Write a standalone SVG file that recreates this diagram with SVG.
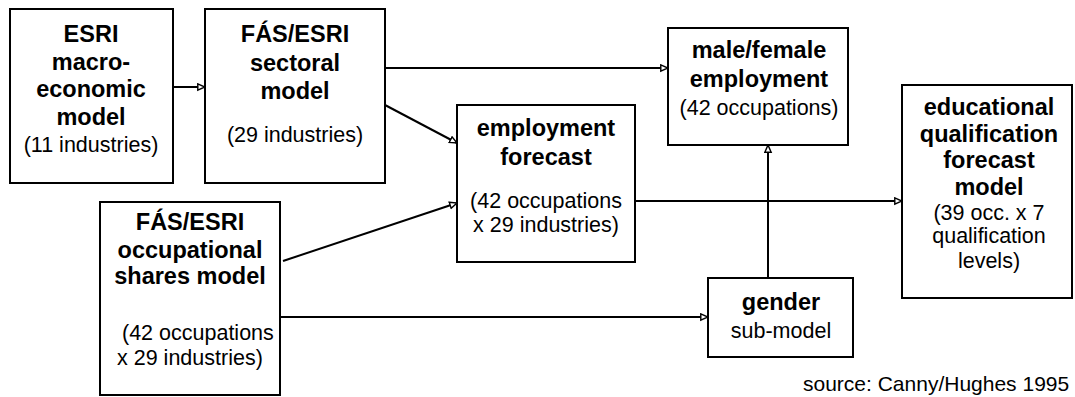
<svg xmlns="http://www.w3.org/2000/svg" width="1075" height="397" viewBox="0 0 1075 397">
  <style>
    .box { fill: #ffffff; stroke: #000000; stroke-width: 2; }
    .edge { fill: none; stroke: #000000; stroke-width: 2; marker-end: url(#head); }
    text { font-family: "Liberation Sans", Arial, sans-serif; fill: #000000; text-anchor: middle; }
    .t { font-size: 23.5px; font-weight: bold; }
    .s { font-size: 21.5px; }
    .note { font-size: 21px; text-anchor: start; }
  </style>
  <defs>
    <marker id="head" viewBox="0 0 10 10" markerUnits="userSpaceOnUse" markerWidth="9" markerHeight="9" refX="9" refY="5" orient="auto">
      <path d="M1,1.5 L9,5 L1,8.5 Z" fill="#ffffff" stroke="#000000" stroke-width="1.6" stroke-linejoin="miter"/>
    </marker>
  </defs>
  <rect width="1075" height="397" fill="#ffffff"/>

  <!-- connectors -->
  <g id="connectors">
    <line class="edge" x1="173" y1="87" x2="205" y2="87"/>
    <line class="edge" x1="385" y1="68" x2="668" y2="68"/>
    <line class="edge" x1="385" y1="105" x2="457" y2="143"/>
    <line class="edge" x1="283" y1="261" x2="457" y2="203"/>
    <line class="edge" x1="635" y1="201" x2="902" y2="201"/>
    <line class="edge" x1="280" y1="317" x2="708" y2="317"/>
    <line class="edge" x1="768" y1="278" x2="768" y2="145"/>
  </g>

  <g id="macro">
    <rect class="box" x="10" y="9" width="163" height="174"/>
    <text class="t" x="91" y="42">ESRI</text>
    <text class="t" x="91" y="70">macro-</text>
    <text class="t" x="91" y="97">economic</text>
    <text class="t" x="91" y="125">model</text>
    <text class="s" x="91" y="152">(11 industries)</text>
  </g>

  <g id="sectoral">
    <rect class="box" x="205" y="9" width="180" height="174"/>
    <text class="t" x="295" y="42">FÁS/ESRI</text>
    <text class="t" x="295" y="71">sectoral</text>
    <text class="t" x="295" y="99">model</text>
    <text class="s" x="295" y="142">(29 industries)</text>
  </g>

  <g id="malefemale">
    <rect class="box" x="668" y="28" width="180" height="117"/>
    <text class="t" x="759" y="58">male/female</text>
    <text class="t" x="759" y="87">employment</text>
    <text class="s" x="759" y="115">(42 occupations)</text>
  </g>

  <g id="forecast">
    <rect class="box" x="457" y="105" width="178" height="157"/>
    <text class="t" x="546" y="136">employment</text>
    <text class="t" x="546" y="165">forecast</text>
    <text class="s" x="546" y="208">(42 occupations</text>
    <text class="s" x="546" y="232">x 29 industries)</text>
  </g>

  <g id="qualification">
    <rect class="box" x="902" y="85" width="170" height="213"/>
    <text class="t" x="989" y="115">educational</text>
    <text class="t" x="989" y="142">qualification</text>
    <text class="t" x="989" y="168">forecast</text>
    <text class="t" x="989" y="195">model</text>
    <text class="s" x="989" y="220">(39 occ. x 7</text>
    <text class="s" x="989" y="243">qualification</text>
    <text class="s" x="989" y="268">levels)</text>
  </g>

  <g id="gender">
    <rect class="box" x="708" y="278" width="145" height="79"/>
    <text class="t" x="781" y="310">gender</text>
    <text class="s" x="781" y="338">sub-model</text>
  </g>

  <g id="occupational">
    <rect class="box" x="100" y="202" width="180" height="193"/>
    <text class="t" x="190" y="230">FÁS/ESRI</text>
    <text class="t" x="190" y="258">occupational</text>
    <text class="t" x="190" y="284">shares model</text>
    <text class="s" x="122" y="340" style="text-anchor:start">(42 occupations</text>
    <text class="s" x="117" y="365" style="text-anchor:start">x 29 industries)</text>
  </g>

  <text class="note" x="803" y="391">source: Canny/Hughes 1995</text>
</svg>
